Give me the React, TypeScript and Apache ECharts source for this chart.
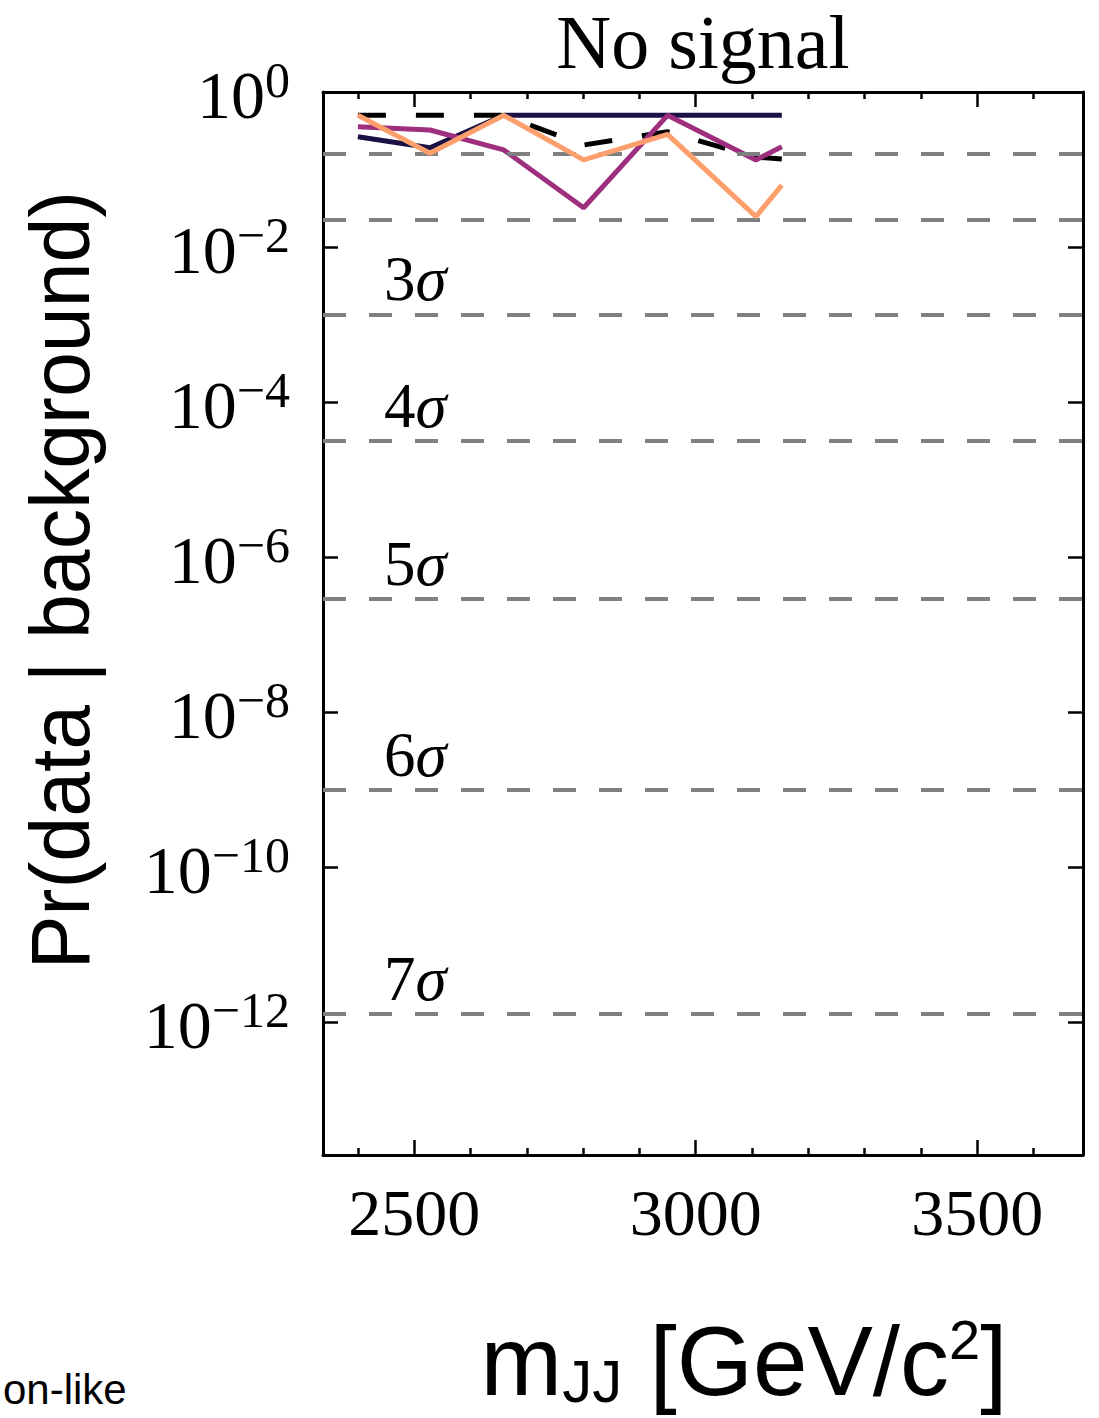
import React, { useEffect, useRef } from "react";
import * as echarts from "echarts";

// ---- data ----
const X_BINS = [2400, 2528, 2659, 2801, 2950, 3107, 3153];
const NAVY_VALUES = [0.265, 0.191, 0.5, 0.5, 0.5, 0.5, 0.5];
const BLACK_DASHED_VALUES = [0.5, 0.5, 0.5, 0.207, 0.307, 0.144, 0.137];
const PURPLE_VALUES = [0.357, 0.323, 0.179, 0.0321, 0.5, 0.133, 0.197];
const ORANGE_VALUES = [0.5, 0.162, 0.5, 0.133, 0.284, 0.0246, 0.063];

const SIGMA_P = [0.158655, 0.02275, 1.3499e-3, 3.1671e-5, 2.8665e-7, 9.8659e-10, 1.2798e-12];
const SIGMA_LABELS = ["", "", "3", "4", "5", "6", "7"];

const X_MIN = 2338;
const X_MAX = 3688;
const X_MAJOR = [2500, 3000, 3500];
const X_MINOR = [2400, 2600, 2700, 2800, 2900, 3100, 3200, 3300, 3400, 3600];
const Y_MIN = 1.92e-14;
const Y_MAX = 1;
const Y_TICKS = [1, 1e-2, 1e-4, 1e-6, 1e-8, 1e-10, 1e-12];

const SERIF = '"Liberation Serif", "DejaVu Serif", serif';
const SANS = '"Liberation Sans", Arial, sans-serif';

const pairs = (ys: number[]) => X_BINS.map((x, i) => [x, ys[i]]);

export default function App() {
  const ref = useRef<HTMLDivElement>(null);

  useEffect(() => {
    if (!ref.current) return;
    const chart = echarts.init(ref.current, undefined, { renderer: "svg" });

    const tickStyle = { color: "#000", width: 2.5 };
    const frameLine = { show: true, lineStyle: { color: "#000", width: 3 } };

    const xBase = {
      type: "value" as const,
      min: X_MIN,
      max: X_MAX,
      splitLine: { show: false },
    };
    const yBase = {
      type: "log" as const,
      logBase: 10,
      min: Y_MIN,
      max: Y_MAX,
      splitLine: { show: false },
      minorTick: { show: false },
    };

    const option: any = {
      animation: false,
      backgroundColor: "#fff",
      title: {
        text: "No signal",
        left: 703,
        top: 4,
        padding: 0,
        textAlign: "center",
        textStyle: {
          fontSize: 76,
          lineHeight: 76,
          fontFamily: SERIF,
          fontWeight: "normal",
          color: "#000",
        },
      },
      grid: { left: 323, top: 92, width: 760, height: 1063, containLabel: false },
      xAxis: [
        {
          ...xBase,
          position: "bottom",
          axisLine: frameLine,
          axisTick: { show: true, inside: true, length: 15, lineStyle: tickStyle, customValues: X_MAJOR },
          axisLabel: {
            customValues: X_MAJOR,
            margin: 24,
            fontSize: 66,
            lineHeight: 66,
            fontFamily: SERIF,
            color: "#000",
            formatter: (v: number) => String(Math.round(v)),
          },
        },
        {
          ...xBase,
          position: "bottom",
          axisLine: { show: false },
          axisTick: { show: true, inside: true, length: 7, lineStyle: tickStyle, customValues: X_MINOR },
          axisLabel: { show: false },
        },
        {
          ...xBase,
          position: "top",
          axisLine: frameLine,
          axisTick: { show: true, inside: true, length: 15, lineStyle: tickStyle, customValues: X_MAJOR },
          axisLabel: { show: false },
        },
        {
          ...xBase,
          position: "top",
          axisLine: { show: false },
          axisTick: { show: true, inside: true, length: 7, lineStyle: tickStyle, customValues: X_MINOR },
          axisLabel: { show: false },
        },
      ],
      yAxis: [
        {
          ...yBase,
          position: "left",
          axisLine: frameLine,
          axisTick: { show: true, inside: true, length: 15, lineStyle: tickStyle, customValues: Y_TICKS },
          axisLabel: {
            customValues: Y_TICKS,
            margin: 33,
            color: "#000",
            formatter: (v: number) => {
              const e = Math.round(Math.log10(v));
              return `{b|10}{s|${e === 0 ? "0" : "\u2212" + -e}}`;
            },
            rich: {
              b: { fontSize: 68, lineHeight: 74, fontFamily: SERIF, color: "#000", verticalAlign: "bottom" },
              s: { fontSize: 50, lineHeight: 48, fontFamily: SERIF, color: "#000", verticalAlign: "top" },
            },
          },
        },
        {
          ...yBase,
          position: "right",
          axisLine: frameLine,
          axisTick: { show: true, inside: true, length: 15, lineStyle: tickStyle, customValues: Y_TICKS },
          axisLabel: { show: false },
        },
      ],
      series: [
        {
          name: "sigma",
          type: "line",
          data: [],
          xAxisIndex: 0,
          yAxisIndex: 0,
          z: 1,
          markLine: {
            silent: true,
            symbol: "none",
            animation: false,
            precision: 20,
            lineStyle: { color: "#808080", width: 4, type: [23, 23] },
            label: { show: false },
            data: SIGMA_P.map((p, i) => ({
              yAxis: p,
              label: SIGMA_LABELS[i]
                ? {
                    show: true,
                    position: "insideStartTop",
                    distance: 5,
                    padding: [0, 0, 0, 56],
                    formatter: `{n|${SIGMA_LABELS[i]}}{g|\u03c3}`,
                    color: "#000",
                    rich: {
                      n: { fontSize: 63, lineHeight: 60, fontFamily: SERIF, color: "#000" },
                      g: { fontSize: 63, lineHeight: 60, fontFamily: SERIF, fontStyle: "italic", color: "#000" },
                    },
                  }
                : { show: false },
            })),
          },
        },
        {
          name: "navy",
          type: "line",
          data: pairs(NAVY_VALUES),
          showSymbol: false,
          symbol: "none",
          z: 2,
          lineStyle: { color: "#1b1044", width: 5 },
        },
        {
          name: "black dashed",
          type: "line",
          data: pairs(BLACK_DASHED_VALUES),
          showSymbol: false,
          symbol: "none",
          z: 3,
          lineStyle: { color: "#000", width: 5, type: [28, 30] },
        },
        {
          name: "purple",
          type: "line",
          data: pairs(PURPLE_VALUES),
          showSymbol: false,
          symbol: "none",
          z: 4,
          lineStyle: { color: "#9e2f7f", width: 5 },
        },
        {
          name: "orange",
          type: "line",
          data: pairs(ORANGE_VALUES),
          showSymbol: false,
          symbol: "none",
          z: 5,
          lineStyle: { color: "#fd9f6c", width: 5 },
        },
      ],
      graphic: [
        {
          type: "text",
          x: 59,
          y: 580,
          rotation: Math.PI / 2,
          scaleX: 0.96,
          style: {
            text: "Pr(data | background)",
            fontSize: 84,
            fontFamily: SANS,
            fill: "#000",
            align: "center",
            verticalAlign: "middle",
          },
        },
        {
          type: "text",
          x: 744,
          y: 1361,
          style: {
            text: "{m|m}{sub|JJ}{m| [GeV/c}{sup|2}{m|]}",
            align: "center",
            verticalAlign: "middle",
            fill: "#000",
            rich: {
              m: { fontSize: 98, lineHeight: 100, fontFamily: SANS, fill: "#000" },
              sub: { fontSize: 60, lineHeight: 66, fontFamily: SANS, fill: "#000", verticalAlign: "bottom" },
              sup: { fontSize: 56, lineHeight: 60, fontFamily: SANS, fill: "#000", verticalAlign: "top" },
            },
          },
        },
        {
          type: "text",
          x: 3,
          y: 1413,
          style: {
            text: "on-like",
            fontSize: 42,
            lineHeight: 48,
            fontFamily: SANS,
            fill: "#000",
            align: "left",
            verticalAlign: "bottom",
          },
        },
      ],
    };

    chart.setOption(option);
    return () => chart.dispose();
  }, []);

  return (
    <div
      ref={ref}
      style={{ position: "absolute", left: 0, top: 0, width: 1099, height: 1418 }}
    />
  );
}
